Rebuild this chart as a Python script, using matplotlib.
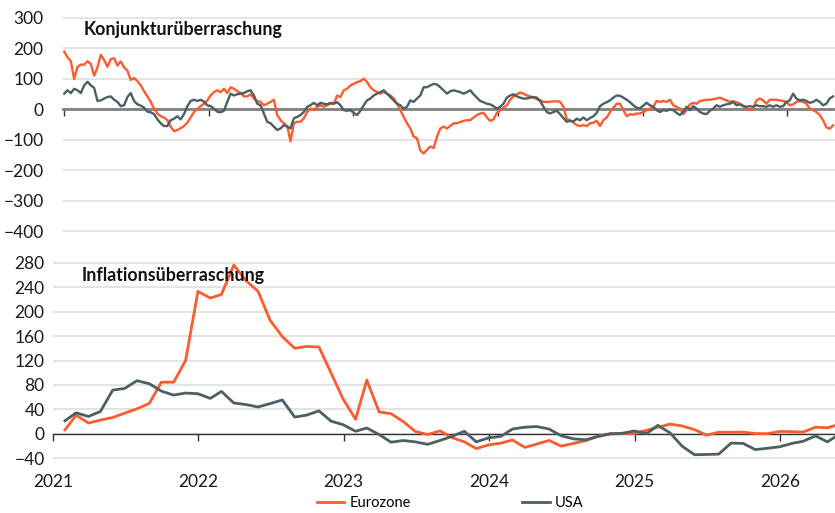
import numpy as np
import pandas as pd
import matplotlib
matplotlib.use("Agg")
import matplotlib.pyplot as plt
from matplotlib.lines import Line2D

plt.rcParams['font.family'] = ['Lato', 'DejaVu Sans']

# colours
c_eur = '#FF5B2E'
c_usa = '#4B5F65'

# Konjunkturüberraschung (~8-day spacing)
konj_eur = [
    189, 170, 157, 99, 139, 146, 146, 157, 148, 110, 137, 178, 161, 139, 164,
    167, 143, 157, 137, 126, 96, 102, 92, 78, 59, 42, 24, 2, -14, -23,
    -27, -36, -57, -72, -68, -62, -55, -44, -27, -9, 1, 10, 18, 29, 45,
    56, 62, 56, 67, 53, 72, 67, 59, 53, 42, 42, 49, 35, 27,
    24, 13, 18, 24, 31, -19, -36, -46, -55, -105, -46, -41, -41, -30, -9,
    2, -3, 8, 13, 8, 13, 18, 18, 45, 40, 62, 67, 78, 83, 89,
    92, 100, 89, 72, 62, 56, 51, 56, 51, 45, 35, 18, -3, -25, -46,
    -63, -90, -95, -135, -145, -133, -122, -127, -90, -63, -57, -63, -55, -46,
    -46, -42, -38, -36, -36, -27, -19, -14, -12, -27, -38, -33, -12, -3, 5,
    13, 31, 42, 49, 55, 51, 45, 42, 38, 33, 29, 24, 24, 24, 26,
    26, 24, 8, -33, -36, -44, -52, -55, -52, -55, -46, -44, -38, -55, -36,
    -27, -9, 5, 18, 18, -3, -23, -16, -18, -14, -14, -9, -3, 2,
    8, 27, 24, 27, 24, 31, 13, 8, 2, -16, -3, 16, 21, 18, 27,
    29, 31, 31, 33, 35, 38, 33, 29, 24, 26, 23, 18, 12, 2, -3,
    2, 29, 35, 29, 18, 31, 31, 31, 29, 27, 23, 13, 16, 24, 27,
    24, 18, 2, -3, -9, -19, -36, -59, -64, -53,
]
konj_usa = [
    51, 62, 53, 67, 62, 53, 78, 90, 78, 70, 27, 29, 35, 40, 42,
    31, 24, 10, 13, 40, 53, 27, 16, 12, 5, -8, -10, -16, -33, -46,
    -55, -55, -36, -31, -23, -33, -16, 10, 27, 31, 27, 31, 25, 13, 10,
    2, -8, -10, -5, 24, 51, 45, 49, 51, 53, 59, 62, 45, 18,
    13, -14, -41, -46, -57, -68, -63, -52, -57, -63, -30, -25, -19, -9, 8,
    13, 21, 13, 21, 18, 16, 21, 18, 23, 13, -3, -5, -3, -12, -19,
    -5, 13, 29, 35, 45, 51, 56, 62, 51, 40, 29, 18, 13, 2, 8,
    29, 24, 35, 45, 72, 72, 78, 83, 81, 72, 62, 51, 59, 62,
    59, 56, 51, 56, 62, 49, 38, 27, 23, 18, 16, 10, 2, 8, 18,
    38, 45, 49, 42, 38, 35, 35, 38, 40, 38, 27, 8, -9, -14, -9,
    -5, -16, -29, -41, -38, -40, -31, -36, -27, -36, -29, -23, -12, 10, 18,
    23, 29, 38, 45, 44, 38, 31, 23, 13, 5, 3, 12, 21, 13,
    8, -3, -9, -3, -5, -1, -3, -12, -19, -9, 8, -3, 10, 2, -9,
    -14, -16, -5, 2, 13, 8, 13, 16, 18, 24, 13, 16, 10, 8, 10,
    8, 13, 10, 10, 8, 13, 8, 13, 8, 10, 24, 29, 51, 35, 29,
    31, 27, 21, 24, 31, 24, 13, 18, 35, 42,
]
konj_dates = pd.date_range('2021-01-01', '2026-04-27', periods=len(konj_eur))

# Inflationsüberraschung, monthly
infl_eur = [
    6.5, 30.7, 17.8, 22.6, 26.9, 34, 41, 50, 84.5, 84.5, 120, 233, 222, 228, 276,
    251, 233, 186, 159, 140, 143, 142, 100, 56.5, 24, 88, 36, 33, 20, 4,
    -1, 5, -6, -13, -24, -18, -15, -10, -22, -16.5, -10.7, -20, -15.5, -11, -4,
    0.5, 0.5, 0.5, 6, 11, 16, 13, 7, -2, 2.7, 2.7, 3, 0.5, 0.5, 4,
    3.7, 3, 11, 10, 16,
]
infl_usa = [
    21.5, 34.5, 28.5, 36.6, 71.6, 74.3, 87, 82, 70, 63.5, 66.8, 65.7, 58, 69.5, 50.6,
    48, 44, 49.5, 55.5, 27.5, 30.7, 37.7, 21, 15, 4.3, 9.7, -1, -13.5, -10.8, -13,
    -17, -10.7, -4, 4.3, -13, -6.4, -4, 8, 11, 12, 8, -3, -8, -9.6, -4.3,
    0, 1, 4.8, 0.5, 14, 1.6, -20, -34, -33.6, -33, -15, -15.5, -25.6, -23.5, -21,
    -15.5, -12, -3.2, -13, 0,
]
infl_dates = pd.date_range('2021-01-31', periods=len(infl_eur), freq='ME')

years = [2021, 2022, 2023, 2024, 2025, 2026]
year_ticks = [pd.Timestamp(f'{y}-01-01') for y in years]

fig = plt.figure(figsize=(8.35, 5.13), dpi=100)
W, H = 835, 513

# top panel
ax1 = fig.add_axes([63 / W, 1 - 232 / H, (W - 63) / W, (232 - 17) / H])
ax1.plot(konj_dates, konj_eur, color=c_eur, lw=1.7, zorder=3)
ax1.plot(konj_dates, konj_usa, color=c_usa, lw=1.7, zorder=3)
ax1.set_ylim(-402, 302)
ax1.set_yticks(range(-400, 301, 100))
ax1.set_xlim(pd.Timestamp('2020-12-29'), pd.Timestamp('2026-05-02'))
ax1.set_xticks(year_ticks)
ax1.grid(axis='y', color='#e2e2e2', lw=1.3)
ax1.set_axisbelow(True)
for s in ['top', 'right', 'left']:
    ax1.spines[s].set_visible(False)
ax1.spines['bottom'].set_position(('data', 0))
ax1.spines['bottom'].set_color('#808080')
ax1.spines['bottom'].set_linewidth(2)
ax1.spines['bottom'].set_zorder(2)
ax1.tick_params(axis='y', length=0, pad=14, labelsize=12.5, labelcolor='#1a1a1a')
ax1.tick_params(axis='x', direction='out', length=5, width=1, color='#333333',
                labelbottom=False)

# bottom panel
ax2 = fig.add_axes([53 / W, 1 - 459 / H, (W - 53) / W, (459 - 262) / H])
ax2.plot(infl_dates, infl_eur, color=c_eur, lw=2, zorder=3)
ax2.plot(infl_dates, infl_usa, color=c_usa, lw=2, zorder=3)
ax2.set_ylim(-41, 281)
ax2.set_yticks(range(-40, 281, 40))
ax2.set_xlim(pd.Timestamp('2021-01-01'), pd.Timestamp('2026-05-19'))
ax2.set_xticks(year_ticks)
ax2.set_xticklabels([str(y) for y in years])
ax2.grid(axis='y', color='#e2e2e2', lw=1.3)
ax2.set_axisbelow(True)
for s in ['top', 'right', 'left']:
    ax2.spines[s].set_visible(False)
ax2.spines['bottom'].set_position(('data', 0))
ax2.spines['bottom'].set_color('#333333')
ax2.spines['bottom'].set_linewidth(1)
ax2.spines['bottom'].set_zorder(2)
ax2.tick_params(axis='y', length=0, pad=6, labelsize=12.5, labelcolor='#1a1a1a')
ax2.tick_params(axis='x', direction='out', length=5, width=1, color='#333333',
                pad=24, labelsize=12.5, labelcolor='#1a1a1a')

fig.text(84 / W, 1 - 29 / H, 'Konjunkturüberraschung', fontsize=12.8,
         fontweight='bold', va='center', ha='left', color='#111111')
fig.text(82 / W, 1 - 276 / H, 'Inflationsüberraschung', fontsize=12.8,
         fontweight='bold', va='center', ha='left', color='#111111')

handles = [Line2D([], [], color=c_eur, lw=2), Line2D([], [], color=c_usa, lw=2)]
fig.legend(handles, ['Eurozone', 'USA'], loc='center',
           bbox_to_anchor=(450 / W, 1 - 503 / H), ncol=2, frameon=False,
           fontsize=10.5, handlelength=1.9, handletextpad=0.35, columnspacing=7.6)

fig.savefig('out.png', dpi=100)
